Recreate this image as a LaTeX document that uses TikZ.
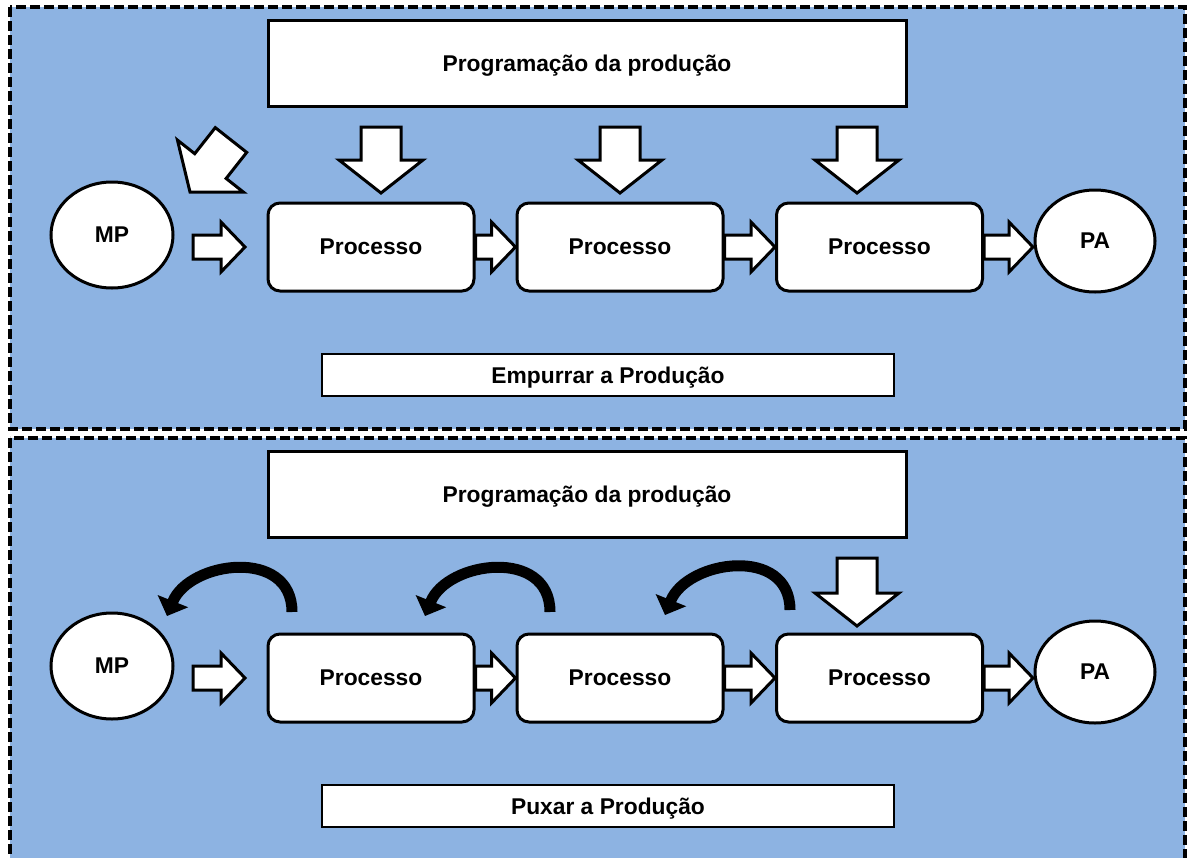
\documentclass[tikz,border=0pt]{standalone}
\usepackage{fontspec}
\setmainfont{Liberation Sans}
\usetikzlibrary{calc,shapes.geometric,arrows.meta}

\definecolor{panelblue}{RGB}{141,179,226}

\begin{document}
\begin{tikzpicture}[x=0.5pt,y=-0.5pt,
  panel/.style={draw=black,fill=panelblue,line width=1.8pt,dash pattern=on 5pt off 2pt},
  txt/.style={font=\fontsize{11.4}{13}\selectfont\bfseries},
  hdr/.style={txt,rectangle,draw,fill=white,line width=1.5pt,minimum width=319pt,minimum height=43pt,text depth=0pt},
  lbl/.style={txt,rectangle,draw,fill=white,line width=1.2pt,minimum width=286pt,minimum height=21pt,text depth=0pt},
  proc/.style={txt,rectangle,rounded corners=6pt,draw,fill=white,line width=1.5pt,minimum width=103pt,minimum height=44pt},
  ext/.style={txt,ellipse,draw,fill=white,line width=1.5pt,inner sep=0pt},
  blk/.style n args={3}{to path={let \p1=($(\tikztotarget)!#3!(\tikztostart)$) in
    ($(\tikztostart)!#1!90:(\tikztotarget)$) -- ($(\p1)!#1!90:(\tikztotarget)$)
    -- ($(\p1)!#2!90:(\tikztotarget)$) -- (\tikztotarget)
    -- ($(\p1)!#2!-90:(\tikztotarget)$) -- ($(\p1)!#1!-90:(\tikztotarget)$)
    -- ($(\tikztostart)!#1!-90:(\tikztotarget)$) -- cycle}},
  ba/.style={draw,fill=white,line width=1.5pt,line join=miter},
  push/.style={ba,blk={10pt}{21pt}{16.5pt}},
  flow/.style={ba,blk={6pt}{12.5pt}{12pt}},
  pull/.style={line width=5.5pt,-{Triangle[length=8pt,width=16pt]}}]

\clip (0,0) rectangle (1189,857);

% panel 1: empurrar
\draw[panel] (10,7) rectangle (1185,429);

\node[hdr] (tprog) at (587,63) {Programação da produção};
\node[ext,minimum width=61pt,minimum height=53pt] (tmp) at (112,235) {MP};
\node[proc] (tp1) at (371,247) {Processo};
\node[proc] (tp2) at (620,247) {Processo};
\node[proc] (tp3) at (879.5,247) {Processo};
\node[ext,minimum width=60pt,minimum height=51pt] (tpa) at (1095,241) {PA};
\node[lbl] (tlbl) at (608,375) {Empurrar a Produção};

\coordinate (tin) at (231,140); \coordinate (tine) at (190,192);
\draw[push] (tin) to (tine);
\coordinate (td1) at (381,127); \coordinate (td1e) at (381,193);
\coordinate (td2) at (620,127); \coordinate (td2e) at (620,193);
\coordinate (td3) at (857,127); \coordinate (td3e) at (857,193);
\draw[push] (td1) to (td1e); \draw[push] (td2) to (td2e); \draw[push] (td3) to (td3e);

\coordinate (tf0) at (193,247); \coordinate (tf0e) at (245,247);
\coordinate (tf4e) at (1033,247);
\draw[flow] (tf0) to (tf0e);
\draw[flow] (tp1.east) to (tp2.west);
\draw[flow] (tp2.east) to (tp3.west);
\draw[flow] (tp3.east) to (tf4e);

% panel 2: puxar
\draw[panel] (10,438) rectangle (1185,866);

\node[hdr] (bprog) at (587,494) {Programação da produção};
\node[ext,minimum width=61pt,minimum height=53pt] (bmp) at (112,666) {MP};
\node[proc] (bp1) at (371,678) {Processo};
\node[proc] (bp2) at (620,678) {Processo};
\node[proc] (bp3) at (879.5,678) {Processo};
\node[ext,minimum width=60pt,minimum height=51pt] (bpa) at (1095,672) {PA};
\node[lbl] (blbl) at (608,806) {Puxar a Produção};

\coordinate (bd3) at (857,558); \coordinate (bd3e) at (857,626);
\draw[push] (bd3) to (bd3e);

\coordinate (bf0) at (193,678); \coordinate (bf0e) at (245,678);
\coordinate (bf4e) at (1033,678);
\draw[flow] (bf0) to (bf0e);
\draw[flow] (bp1.east) to (bp2.west);
\draw[flow] (bp2.east) to (bp3.west);
\draw[flow] (bp3.east) to (bf4e);

% kanban signals
\coordinate (bk1) at (292,612); \coordinate (bk1e) at (167,616);
\coordinate (bk2) at (550,612); \coordinate (bk2e) at (425,616);
\coordinate (bk3) at (790,610); \coordinate (bk3e) at (665,615);
\draw[pull] (bk1) .. controls +(0,-65) and +(22,-55) .. (bk1e);
\draw[pull] (bk2) .. controls +(0,-65) and +(22,-55) .. (bk2e);
\draw[pull] (bk3) .. controls +(0,-65) and +(22,-55) .. (bk3e);
\end{tikzpicture}
\end{document}
